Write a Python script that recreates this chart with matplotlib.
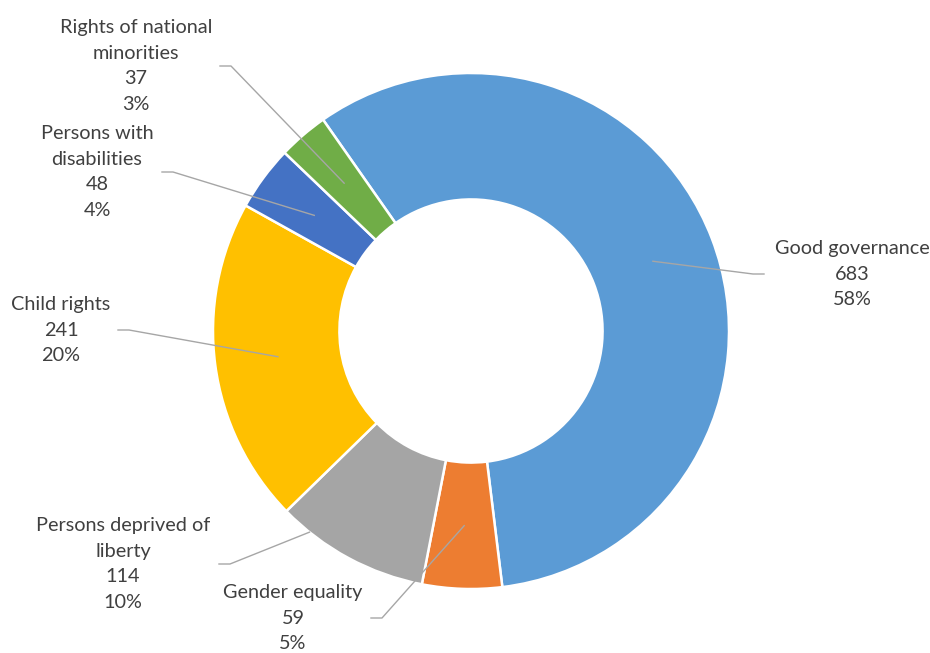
import numpy as np
import matplotlib.pyplot as plt

# Complaints by topic
categories = ["Good governance", "Gender equality", "Persons deprived of\nliberty",
              "Child rights", "Persons with\ndisabilities", "Rights of national\nminorities"]
counts = [683, 59, 114, 241, 48, 37]
percents = ["58%", "5%", "10%", "20%", "4%", "3%"]
colors = ["#5B9BD5", "#ED7D31", "#A5A5A5", "#FFC000", "#4472C4", "#70AD47"]

# label box centres (pixels, y from top) and which side the leader leaves from
label_pos = [(852, 274), (293, 618), (123, 564), (61, 330), (97, 172), (136, 66)]
label_side = [-1, 1, 1, 1, 1, 1]
box_half = [80, 70, 88, 49, 57, 76]
# where the leader touches the wedge: fraction of radius, fraction along the arc
anchor_r = [0.755, 0.755, 1.0, 0.755, 0.755, 0.755]
anchor_t = [0.5, 0.5, 0.8, 0.5, 0.5, 0.5]

W, H = 930, 653
cx, cy, R = 471, 322, 258
start = 125

fig = plt.figure(figsize=(9.3, 6.53), dpi=100)
ax = fig.add_axes([0, 0, 1, 1])

wedges, _ = ax.pie(counts, colors=colors, startangle=start, counterclock=False,
                   center=(cx, cy), radius=R, frame=True,
                   wedgeprops=dict(width=R * 0.49, edgecolor="white", linewidth=1.8))
ax.set_xlim(0, W)
ax.set_ylim(0, H)
ax.set_aspect("equal")
ax.axis("off")

text_kw = dict(fontsize=14.3, color="#404040", family=["Lato", "DejaVu Sans"],
               ha="center", va="center", multialignment="center", linespacing=1.62)

for w, cat, n, p, (lx, ly), side, hb, ar, at in zip(wedges, categories, counts, percents,
                                                     label_pos, label_side, box_half,
                                                     anchor_r, anchor_t):
    # counterclock=False: theta2 is where the wedge starts
    ang = np.deg2rad(w.theta2 + (w.theta1 - w.theta2) * at)
    px = cx + R * ar * np.cos(ang)
    py = cy + R * ar * np.sin(ang)
    ty = H - ly
    ax.text(lx, ty, f"{cat}\n{n}\n{p}", **text_kw)
    x0 = lx + side * (hb + 8)
    x1 = x0 + side * 11
    ax.plot([x0, x1, px], [ty, ty, py], color="#A6A6A6", lw=1.0, zorder=5)

fig.savefig("out.png", dpi=100, facecolor="white")
